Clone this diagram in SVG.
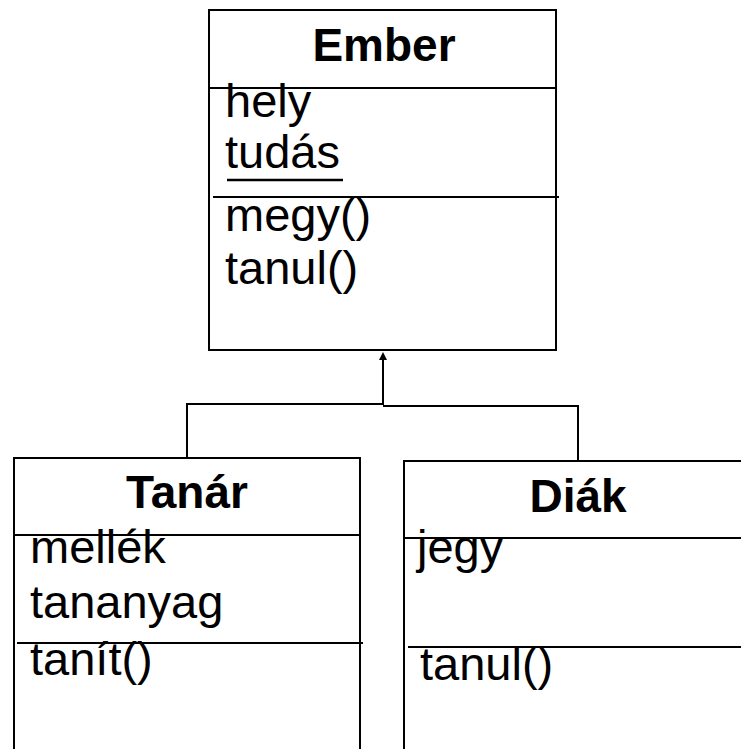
<svg xmlns="http://www.w3.org/2000/svg" width="741" height="749" viewBox="0 0 741 749">
<style>
.box{fill:#fff;stroke:#000;stroke-width:2}
.div{stroke:#000;stroke-width:2;fill:none}
.t{font-family:"Liberation Sans",Arial,sans-serif;font-size:47px;fill:#000}
.b{font-weight:bold;text-anchor:middle;font-size:46px}
.conn{stroke:#000;stroke-width:2;fill:none}
</style>
<g id="connectors">
<path class="conn" d="M187,457 V404 H383 V360"/>
<path d="M383,352 L379,360 L387,360 Z" fill="#000"/>
<path class="conn" d="M383,406 H578 V460"/>
</g>
<g id="ember">
<rect class="box" x="209" y="10" width="347" height="340"/>
<line class="div" x1="209" y1="88" x2="556" y2="88"/>
<line class="div" x1="213" y1="197" x2="559" y2="197"/>
<text class="t b" x="384" y="61">Ember</text>
<text class="t" x="225" y="117">hely</text>
<text class="t" x="225" y="168">tudás</text>
<line x1="227" y1="180" x2="343" y2="180" stroke="#000" stroke-width="2.5"/>
<text class="t" x="225" y="231">megy()</text>
<text class="t" x="225" y="284">tanul()</text>
</g>
<g id="tanar">
<rect class="box" x="14" y="458" width="346" height="310"/>
<line class="div" x1="14" y1="535" x2="360" y2="535"/>
<line class="div" x1="17" y1="643" x2="363" y2="643"/>
<text class="t b" x="187" y="508">Tanár</text>
<text class="t" x="30" y="563">mellék</text>
<text class="t" x="30" y="618">tananyag</text>
<text class="t" x="30" y="675">tanít()</text>
</g>
<g id="diak">
<rect class="box" x="404" y="461" width="350" height="310"/>
<line class="div" x1="404" y1="538" x2="741" y2="538"/>
<line class="div" x1="408" y1="647" x2="741" y2="647"/>
<text class="t b" x="578" y="512">Diák</text>
<text class="t" x="417" y="563">jegy</text>
<text class="t" x="420" y="680">tanul()</text>
</g>
</svg>
